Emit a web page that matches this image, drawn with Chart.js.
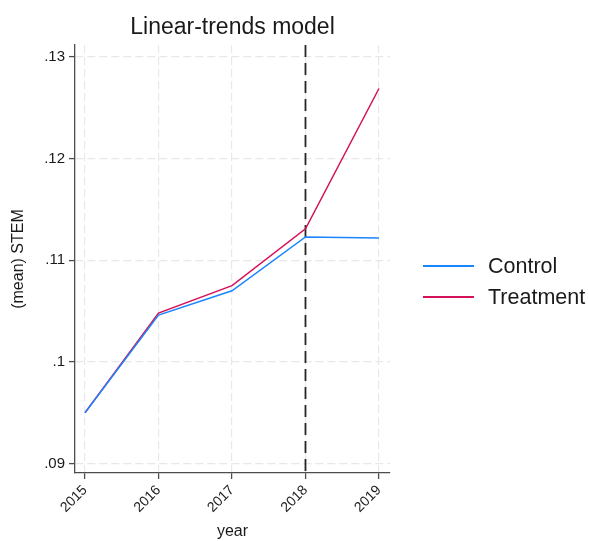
<!DOCTYPE html>
<html>
<head>
<meta charset="utf-8">
<script src="https://cdn.jsdelivr.net/npm/chart.js@4"></script>
<style>
  html, body { margin: 0; padding: 0; background: #fff; }
  #wrap { width: 589px; height: 541px; position: relative; }
</style>
</head>
<body>
<div id="wrap"><canvas id="c" width="589" height="541"></canvas></div>
<script>
// Mean STEM share by year, control vs treatment group
const years = [2015, 2016, 2017, 2018, 2019];
const control = [0.0950, 0.1046, 0.1070, 0.1123, 0.1122];
const treatment = [0.0950, 0.1048, 0.1075, 0.1131, 0.1269];
const yTicks = [0.09, 0.10, 0.11, 0.12, 0.13];
const seriesNames = ['Control', 'Treatment'];
const treatmentYear = 2018;
const chartTitle = 'Linear-trends model';

const FONT = '"Liberation Sans", Arial, sans-serif';
const TEXT = '#1a1a1a';
const AXIS = '#4d4d4d';
const GRID = '#e8e8e8';
const COLORS = ['rgb(26,133,255)', 'rgb(212,17,89)'];

// Dashed vertical reference line at the treatment year
const refLine = {
  id: 'refLine',
  beforeDatasetsDraw(chart) {
    const { ctx, chartArea, scales } = chart;
    const x = scales.x.getPixelForValue(treatmentYear);
    ctx.save();
    ctx.strokeStyle = '#262626';
    ctx.lineWidth = 1.8;
    ctx.setLineDash([12, 6]);
    ctx.beginPath();
    ctx.moveTo(x, chartArea.top);
    ctx.lineTo(x, chartArea.bottom);
    ctx.stroke();
    ctx.restore();
  }
};

// Title centred over the plot region
const plotTitle = {
  id: 'plotTitle',
  afterDraw(chart) {
    const { ctx, chartArea } = chart;
    ctx.save();
    ctx.font = '23px ' + FONT;
    ctx.fillStyle = TEXT;
    ctx.textAlign = 'center';
    ctx.textBaseline = 'middle';
    ctx.fillText(chartTitle, (chartArea.left + chartArea.right) / 2, 28);
    ctx.restore();
  }
};

// Legend to the right of the plot
const sideLegend = {
  id: 'sideLegend',
  afterDraw(chart) {
    const { ctx } = chart;
    ctx.save();
    ctx.font = '21.5px ' + FONT;
    ctx.textBaseline = 'middle';
    ctx.textAlign = 'left';
    chart.data.datasets.forEach((ds, i) => {
      const y = 266 + i * 31;
      ctx.strokeStyle = ds.borderColor;
      ctx.lineWidth = 2;
      ctx.beginPath();
      ctx.moveTo(423, y);
      ctx.lineTo(474, y);
      ctx.stroke();
      ctx.fillStyle = TEXT;
      ctx.fillText(ds.label, 488, y + 1);
    });
    ctx.restore();
  }
};

const toPoints = vals => years.map((yr, i) => ({ x: yr, y: vals[i] }));

new Chart(document.getElementById('c'), {
  type: 'line',
  data: {
    datasets: [
      { label: seriesNames[0], data: toPoints(control), borderColor: COLORS[0] },
      { label: seriesNames[1], data: toPoints(treatment), borderColor: COLORS[1] }
    ]
  },
  options: {
    responsive: false,
    animation: false,
    devicePixelRatio: 1,
    layout: { padding: { top: 45, right: 199, left: 0, bottom: 0 } },
    elements: {
      line: { borderWidth: 1.5, tension: 0, fill: false },
      point: { radius: 0, hoverRadius: 0 }
    },
    plugins: {
      legend: { display: false },
      title: { display: false },
      tooltip: { enabled: false }
    },
    scales: {
      x: {
        type: 'linear',
        min: 2014.864,
        max: 2019.15,
        afterBuildTicks: s => { s.ticks = years.map(v => ({ value: v })); },
        afterFit: s => { s.height = 68; },
        ticks: {
          callback: v => String(v),
          minRotation: 45,
          maxRotation: 45,
          padding: 3,
          color: TEXT,
          font: { family: FONT, size: 14 }
        },
        grid: { color: GRID, lineWidth: 1.2, tickColor: AXIS, tickLength: 6, tickWidth: 1.3 },
        border: { color: AXIS, width: 1.3, dash: [8, 4] },
        title: {
          display: true,
          text: 'year',
          color: TEXT,
          font: { family: FONT, size: 16 },
          padding: { top: 0, bottom: 0 }
        }
      },
      y: {
        type: 'linear',
        min: 0.08907,
        max: 0.13118,
        afterBuildTicks: s => { s.ticks = yTicks.map(v => ({ value: v })); },
        afterFit: s => { s.width = 75; },
        ticks: {
          callback: v => String(+v.toFixed(2)).replace(/^0/, ''),
          padding: 4,
          color: TEXT,
          font: { family: FONT, size: 15 }
        },
        grid: { color: GRID, lineWidth: 1.2, tickColor: AXIS, tickLength: 6, tickWidth: 1.3 },
        border: { color: AXIS, width: 1.3, dash: [8, 4] },
        title: {
          display: true,
          text: '(mean) STEM',
          color: TEXT,
          font: { family: FONT, size: 16 },
          padding: { top: 9, bottom: 0 }
        }
      }
    }
  },
  plugins: [refLine, plotTitle, sideLegend]
});
</script>
</body>
</html>
